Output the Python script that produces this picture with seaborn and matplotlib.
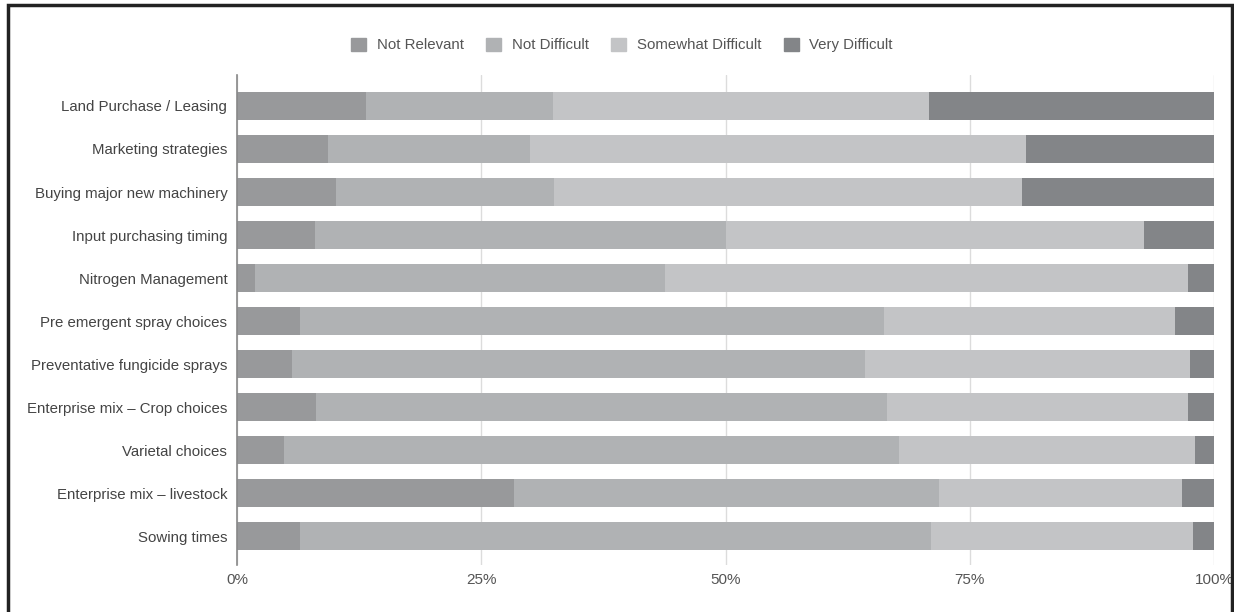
import pandas as pd
import numpy as np
import matplotlib.pyplot as plt
import seaborn as sns
from matplotlib.patches import Rectangle

sns.set_style("white")
plt.rcParams["font.family"] = ["Liberation Sans", "DejaVu Sans"]

# Data (percent of respondents)
tasks = [
    "Land Purchase / Leasing",
    "Marketing strategies",
    "Buying major new machinery",
    "Input purchasing timing",
    "Nitrogen Management",
    "Pre emergent spray choices",
    "Preventative fungicide sprays",
    "Enterprise mix \u2013 Crop choices",
    "Varietal choices",
    "Enterprise mix \u2013 livestock",
    "Sowing times",
]
not_relevant = [13.2, 9.3, 10.1, 8.0, 1.8, 6.4, 5.6, 8.1, 4.8, 28.4, 6.4]
not_difficult = [19.1, 20.7, 22.3, 42.0, 42.0, 59.8, 58.7, 58.4, 63.0, 43.5, 64.6]
somewhat_difficult = [38.5, 50.8, 47.9, 42.8, 53.5, 29.8, 33.2, 30.8, 30.3, 24.8, 26.9]
very_difficult = [29.2, 19.2, 19.7, 7.2, 2.7, 4.0, 2.5, 2.7, 1.9, 3.3, 2.1]

categories = ["Not Relevant", "Not Difficult", "Somewhat Difficult", "Very Difficult"]
colors = ["#98999b", "#b0b2b4", "#c3c4c6", "#838588"]

df = pd.DataFrame({
    "task": tasks,
    "Not Relevant": not_relevant,
    "Not Difficult": not_difficult,
    "Somewhat Difficult": somewhat_difficult,
    "Very Difficult": very_difficult,
})
cum = df[categories].cumsum(axis=1)

fig = plt.figure(figsize=(12.34, 6.12), dpi=100)
ax = fig.add_axes([237 / 1234, 1 - 565 / 612, (1214 - 237) / 1234, (565 - 75) / 612])

# draw cumulative bars from the longest to the shortest so they stack
for cat, col in reversed(list(zip(categories, colors))):
    sns.barplot(x=cum[cat], y=df["task"], color=col, width=0.65,
                orient="h", ax=ax, zorder=2, linewidth=0, saturation=1)

ax.set_xlim(0, 100)
ax.set_ylim(len(tasks) - 0.33, -0.72)
ax.set_xticks([0, 25, 50, 75, 100])
ax.set_xticklabels(["0%", "25%", "50%", "75%", "100%"])
ax.grid(axis="x", color="#dcdcdc", linewidth=1, zorder=0)
ax.set_xlabel("")
ax.set_ylabel("")
for s in ["top", "right", "bottom"]:
    ax.spines[s].set_visible(False)
ax.spines["left"].set_color("#888888")
ax.spines["left"].set_linewidth(1.2)
ax.tick_params(axis="x", length=0, pad=6, labelsize=11, labelcolor="#555555")
ax.tick_params(axis="y", length=0, pad=7, labelsize=10.8, labelcolor="#444444")

handles = [Rectangle((0, 0), 1, 1, color=c) for c in colors]
fig.legend(handles, categories, loc="center", bbox_to_anchor=(622 / 1234, 1 - 45 / 612),
           ncol=4, frameon=False, fontsize=10.8, handlelength=1.0, handleheight=1.0,
           columnspacing=1.5, handletextpad=0.7, labelcolor="#555555")

# outer frame
fig.patches.append(Rectangle((8 / 1234, -0.01), (1232 - 8) / 1234, 1 - 5 / 612 + 0.01,
                             transform=fig.transFigure, fill=False,
                             edgecolor="#222222", linewidth=2.5))

fig.savefig("out.png", dpi=100)
